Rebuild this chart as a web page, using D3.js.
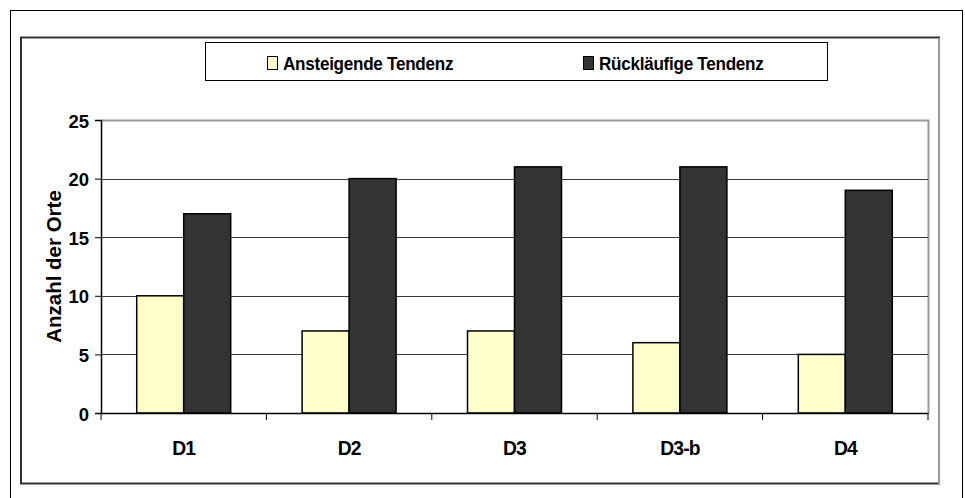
<!DOCTYPE html>
<html>
<head>
<meta charset="utf-8">
<script src="https://cdn.jsdelivr.net/npm/d3@7"></script>
<style>
  body { margin: 0; background: #fff; }
  text { font-family: "Liberation Sans", Arial, sans-serif; font-weight: bold; fill: #000; }
</style>
</head>
<body>
<div id="chart"></div>
<script>
// Data
const categories = ["D1", "D2", "D3", "D3-b", "D4"];
const seriesNames = ["Ansteigende Tendenz", "Rückläufige Tendenz"];
const ansteigend = [10, 7, 7, 6, 5];
const ruecklaeufig = [17, 20, 21, 21, 19];
const yTicks = [0, 5, 10, 15, 20, 25];
const colors = ["#ffffcc", "#333333"];

const data = categories.map((c, i) => ({ cat: c, values: [ansteigend[i], ruecklaeufig[i]] }));

const W = 965, H = 498;
const plot = { left: 101, right: 928, top: 120, bottom: 413 };

const svg = d3.select("#chart").append("svg")
    .attr("width", W)
    .attr("height", H);

// outer frame
svg.append("rect")
    .attr("x", 10.5).attr("y", 10.5)
    .attr("width", 952).attr("height", 500)
    .attr("fill", "none").attr("stroke", "#000").attr("stroke-width", 1);

// inner chart frame
svg.append("rect")
    .attr("x", 21).attr("y", 37.5)
    .attr("width", 918).attr("height", 446)
    .attr("fill", "#fff").attr("stroke", "#333").attr("stroke-width", 2);
svg.append("line")
    .attr("x1", 939).attr("x2", 939).attr("y1", 38).attr("y2", 484)
    .attr("stroke", "#999").attr("stroke-width", 2);

// scales
const x = d3.scaleBand()
    .domain(categories)
    .range([plot.left, plot.right]);

const xInner = d3.scaleBand()
    .domain([0, 1])
    .range([0, x.bandwidth()])
    .paddingOuter(0.76)
    .paddingInner(0);

const y = d3.scaleLinear()
    .domain([0, 25])
    .range([plot.bottom, plot.top]);

// plot area border (top + right)
svg.append("path")
    .attr("d", `M${plot.left},${plot.top + 0.5}H${plot.right + 0.5}V${plot.bottom}`)
    .attr("fill", "none").attr("stroke", "#999").attr("stroke-width", 2);

// gridlines
svg.append("g")
    .selectAll("line")
    .data(yTicks.filter(t => t > 0 && t < 25))
    .join("line")
    .attr("x1", plot.left).attr("x2", plot.right)
    .attr("y1", d => Math.round(y(d)) + 0.5).attr("y2", d => Math.round(y(d)) + 0.5)
    .attr("stroke", "#3a3a3a").attr("stroke-width", 1);

// bars
const groups = svg.append("g")
    .selectAll("g")
    .data(data)
    .join("g")
    .attr("transform", d => `translate(${x(d.cat)},0)`);

groups.selectAll("rect")
    .data(d => d.values.map((v, i) => ({ v, i })))
    .join("rect")
    .attr("x", d => xInner(d.i))
    .attr("y", d => y(d.v))
    .attr("width", xInner.bandwidth())
    .attr("height", d => y(0) - y(d.v))
    .attr("fill", d => colors[d.i])
    .attr("stroke", "#000")
    .attr("stroke-width", 1.5);

// y axis
const yAxis = svg.append("g")
    .attr("transform", `translate(${plot.left},0)`)
    .call(d3.axisLeft(y).tickValues(yTicks).tickSize(6).tickPadding(6));
yAxis.select(".domain").attr("stroke", "#000").attr("stroke-width", 1.5);
yAxis.selectAll(".tick line").attr("stroke", "#000");
yAxis.selectAll(".tick text")
    .attr("dy", "0.38em")
    .style("font-size", "18.5px")
    .attr("fill", "#000");

// x axis
const xAxis = svg.append("g")
    .attr("transform", `translate(0,${plot.bottom})`)
    .call(d3.axisBottom(x).tickSize(0));
xAxis.select(".domain").attr("stroke", "#000").attr("stroke-width", 1.5);
xAxis.selectAll(".tick text")
    .attr("y", 42).attr("dy", null)
    .attr("transform", "scale(0.92,1)")
    .style("font-size", "21px")
    .style("letter-spacing", "-1px")
    .attr("fill", "#000");
// category separators
svg.append("g")
    .selectAll("line")
    .data(categories.map(c => x(c)).concat([plot.right]))
    .join("line")
    .attr("x1", d => d).attr("x2", d => d)
    .attr("y1", plot.bottom).attr("y2", plot.bottom + 7)
    .attr("stroke", "#000").attr("stroke-width", 1);

// y axis title
svg.append("text")
    .attr("transform", `translate(61,${(plot.top + plot.bottom) / 2}) rotate(-90)`)
    .attr("text-anchor", "middle")
    .style("font-size", "20.5px")
    .text("Anzahl der Orte");

// legend
svg.append("rect")
    .attr("x", 205.5).attr("y", 42.5)
    .attr("width", 622).attr("height", 38)
    .attr("fill", "#fff").attr("stroke", "#000").attr("stroke-width", 1);

const legendX = [267, 583];
const legend = svg.append("g")
    .selectAll("g")
    .data(seriesNames)
    .join("g")
    .attr("transform", (d, i) => `translate(${legendX[i]},56)`);

legend.append("rect")
    .attr("x", 0.5).attr("y", 0.5)
    .attr("width", 10).attr("height", 13)
    .attr("fill", (d, i) => colors[i])
    .attr("stroke", "#000").attr("stroke-width", 1);

legend.append("text")
    .attr("transform", "translate(16,13.5) scale(0.9,1)")
    .style("font-size", "19px")
    .style("letter-spacing", "-0.3px")
    .text(d => d);
</script>
</body>
</html>
